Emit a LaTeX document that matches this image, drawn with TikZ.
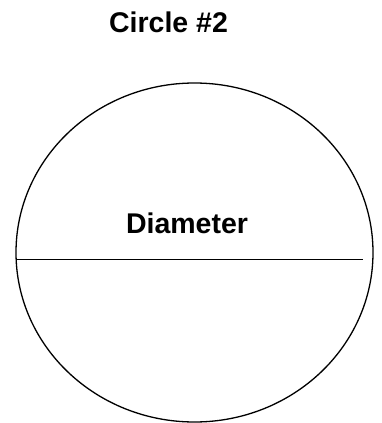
\documentclass[tikz,border=0pt]{standalone}
\usepackage{fontspec}
\setmainfont{Liberation Sans}
\usetikzlibrary{shapes.geometric}

\begin{document}
\begin{tikzpicture}[
      x=1pt, y=-1pt,
      lbl/.style={font=\bfseries\fontsize{28.5}{30}\selectfont, inner sep=0pt,
                  anchor=base},
      shape outline/.style={ellipse, draw=black, line width=1.3pt,
                  minimum width=357pt, minimum height=339pt, inner sep=0pt},
      diam/.style={line width=1.3pt}
    ]
    \useasboundingbox (0,0) rectangle (381,423);
    \node[lbl] (title) at (168.5,32) {Circle \#2};
    \node[shape outline] (circ) at (194.5,252.5) {};
    \node[lbl] (dlabel) at (187,233) {Diameter};
    \coordinate (dleft) at (16.1,259.3);
    \coordinate (dright) at (363,259.3);
    \draw[diam] (dleft) -- (dright);
  \end{tikzpicture}
\end{document}
